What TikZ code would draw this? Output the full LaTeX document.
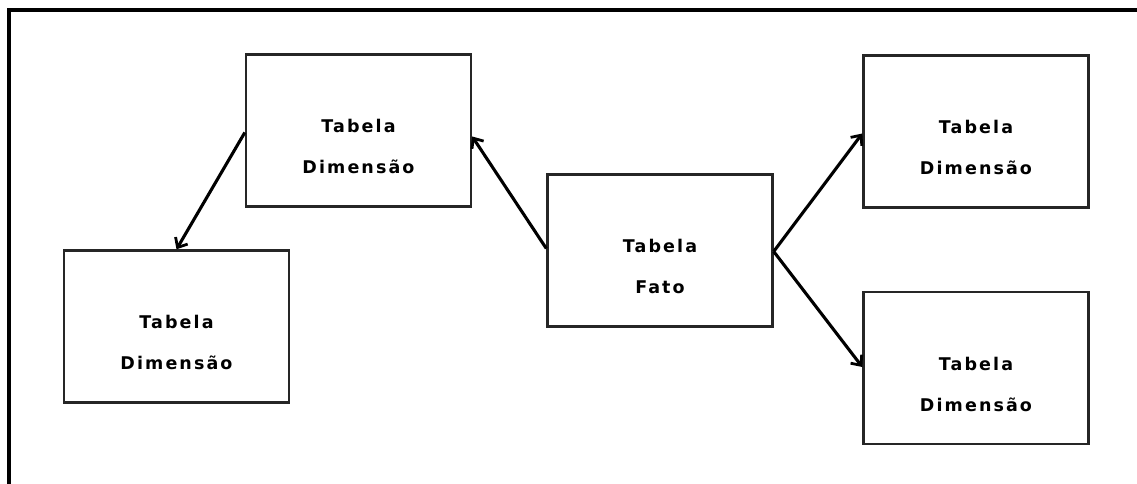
\documentclass[tikz,border=0pt]{standalone}
\usepackage{fontspec}
\newfontfamily\dvb[LetterSpace=12]{DejaVu Sans Bold}
\usetikzlibrary{arrows.meta}
\tikzset{
  tbox/.style={draw=black!85, line width=2.4pt, rectangle, minimum width=225pt, minimum height=152pt, inner sep=0pt},
  tlabel/.style={align=center, font=\dvb\fontsize{17.5}{41}\selectfont, inner sep=0pt},
  conn/.style={line width=3.1pt, -{Straight Barb[length=8pt,width=14pt,line width=2.8pt]}},
  frame/.style={line width=4.5pt}
}
\begin{document}
\begin{tikzpicture}[x=1pt,y=-1pt]
\useasboundingbox (0,0) rectangle (1137,484);
\draw[frame] (9,500) -- (9,10) -- (1150,10);
\node[tbox] (tl) at (358.5,130.5) {};
\node[tbox] (bl) at (176.5,326.5) {};
\node[tbox] (c) at (660,250.5) {};
\node[tbox] (tr) at (976,131.5) {};
\node[tbox] (br) at (976,368) {};
\node[tlabel] (tlt) at (358.5,146) {Tabela\\Dimensão};
\node[tlabel] (blt) at (176.5,342) {Tabela\\Dimensão};
\node[tlabel] (ct) at (660,266) {Tabela\\Fato};
\node[tlabel] (trt) at (976,147.5) {Tabela\\Dimensão};
\node[tlabel] (brt) at (976,384) {Tabela\\Dimensão};
\draw[conn] ([yshift=2pt]c.west) -- ([yshift=-6pt]tl.east);
\draw[conn] ([yshift=-2pt]tl.west) -- (bl.north);
\draw[conn] ([yshift=-1pt]c.east) -- ([yshift=-2pt]tr.west);
\draw[conn] ([yshift=-1pt]c.east) -- ([yshift=1pt]br.west);
\end{tikzpicture}
\end{document}
